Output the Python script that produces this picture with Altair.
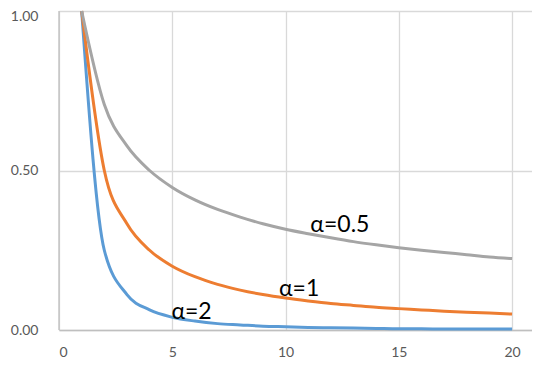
import altair as alt
import pandas as pd

x_vals = list(range(1, 21))
y_a05 = [1.000, 0.707, 0.577, 0.500, 0.447, 0.408, 0.378, 0.354, 0.333, 0.316,
         0.302, 0.289, 0.277, 0.267, 0.258, 0.250, 0.243, 0.236, 0.229, 0.224]
y_a1 = [1.000, 0.500, 0.333, 0.250, 0.200, 0.167, 0.143, 0.125, 0.111, 0.100,
        0.091, 0.083, 0.077, 0.071, 0.067, 0.063, 0.059, 0.056, 0.053, 0.050]
y_a2 = [1.000, 0.250, 0.111, 0.063, 0.040, 0.028, 0.020, 0.016, 0.012, 0.010,
        0.008, 0.007, 0.006, 0.005, 0.004, 0.004, 0.003, 0.003, 0.003, 0.003]

series_names = ["α=2", "α=1", "α=0.5"]
series_colors = ["#5B9BD5", "#ED7D31", "#A5A5A5"]

label_text = ["α=0.5", "α=1", "α=2"]
label_x = [12.4, 10.6, 5.85]
label_y = [0.33, 0.128, 0.056]

x_ticks = [0, 5, 10, 15, 20]
y_ticks = [0.0, 0.5, 1.0]

rows = []
for name, ys in zip(series_names, [y_a2, y_a1, y_a05]):
    for xv, yv in zip(x_vals, ys):
        rows.append({"x": xv, "y": yv, "series": name})
df = pd.DataFrame(rows)
labels = pd.DataFrame({"x": label_x, "y": label_y, "t": label_text})

xscale = alt.Scale(domain=[0, 20.88], nice=False, zero=False)
yscale = alt.Scale(domain=[0, 1], nice=False)

lines = alt.Chart(df).mark_line(strokeWidth=3, interpolate="monotone").encode(
    x=alt.X("x:Q", scale=xscale,
            axis=alt.Axis(values=x_ticks, title=None, format="d", grid=True,
                          gridColor="#D9D9D9", gridWidth=1.3,
                          domainColor="#BFBFBF", domainWidth=1.3,
                          ticks=False, labelPadding=15, labelFontSize=14,
                          labelColor="#595959", labelFont="Lato")),
    y=alt.Y("y:Q", scale=yscale,
            axis=alt.Axis(values=y_ticks, title=None, format=".2f", grid=True,
                          gridColor="#D9D9D9", gridWidth=1.3,
                          domain=False, ticks=False, labelPadding=21,
                          labelOffset={"condition": {"test": "datum.value >= 1", "value": 5}, "value": 0},
                          labelFontSize=14, labelColor="#595959", labelFont="Lato")),
    color=alt.Color("series:N", scale=alt.Scale(domain=series_names, range=series_colors),
                    legend=None),
    detail="series:N",
)

texts = alt.Chart(labels).mark_text(fontSize=23, font="Lato", color="#000000",
                                    align="center", baseline="middle").encode(
    x=alt.X("x:Q", scale=xscale),
    y=alt.Y("y:Q", scale=yscale),
    text="t:N",
)

yaxis_line = alt.Chart(pd.DataFrame({"x": [0]})).mark_rule(color="#BFBFBF", strokeWidth=1.3).encode(
    x=alt.X("x:Q", scale=xscale)
)

chart = alt.layer(yaxis_line, lines, texts).properties(
    width=473, height=319,
    autosize=alt.AutoSizeParams(type="none"),
    padding={"left": 51, "top": 3, "right": 0, "bottom": 36},
).configure_view(stroke=None).configure(background="white")

chart.save("out.html", embed_options={"renderer": "svg", "actions": False})
